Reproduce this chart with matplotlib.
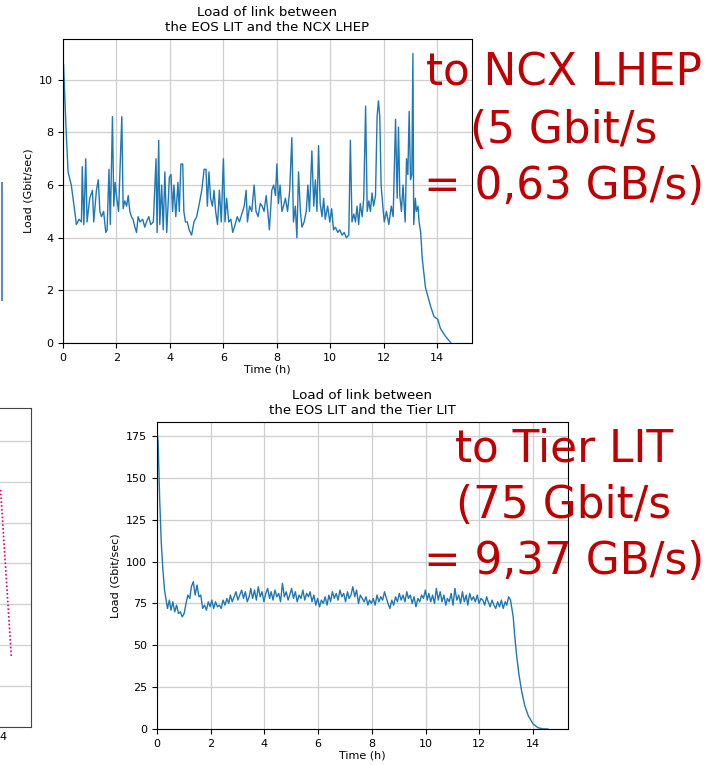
import matplotlib
matplotlib.use("Agg")
import matplotlib.pyplot as plt
from matplotlib.lines import Line2D

# --- link to NCX LHEP (Gbit/s vs hours)
ncx_t = [0.00, 0.02, 0.12, 0.19, 0.31, 0.44, 0.50, 0.60, 0.69, 0.72,
         0.78, 0.85, 0.90, 1.00, 1.10, 1.15, 1.25, 1.32, 1.38, 1.44,
         1.52, 1.60, 1.65, 1.72, 1.77, 1.85, 1.90, 1.95, 2.00, 2.08,
         2.20, 2.25, 2.31, 2.38, 2.44, 2.50, 2.56, 2.62, 2.69, 2.75,
         2.81, 2.88, 2.98, 3.06, 3.12, 3.21, 3.28, 3.38, 3.48, 3.52,
         3.58, 3.62, 3.69, 3.75, 3.81, 3.88, 3.98, 4.04, 4.10, 4.15,
         4.22, 4.30, 4.35, 4.41, 4.48, 4.52, 4.58, 4.65, 4.72, 4.81,
         4.90, 5.00, 5.10, 5.19, 5.28, 5.35, 5.40, 5.46, 5.52, 5.59,
         5.65, 5.71, 5.78, 5.85, 5.92, 6.00, 6.06, 6.12, 6.20, 6.28,
         6.35, 6.44, 6.52, 6.60, 6.69, 6.78, 6.85, 6.90, 6.98, 7.06,
         7.15, 7.22, 7.30, 7.38, 7.45, 7.52, 7.60, 7.66, 7.72, 7.81,
         7.88, 7.95, 8.00, 8.06, 8.12, 8.19, 8.25, 8.32, 8.40, 8.48,
         8.56, 8.62, 8.69, 8.75, 8.81, 8.88, 8.94, 9.02, 9.10, 9.16,
         9.22, 9.31, 9.38, 9.44, 9.50, 9.56, 9.62, 9.69, 9.75, 9.81,
         9.90, 9.98, 10.05, 10.12, 10.19, 10.28, 10.35, 10.44, 10.52, 10.60,
         10.69, 10.75, 10.81, 10.88, 10.94, 11.00, 11.06, 11.12, 11.19, 11.25,
         11.32, 11.38, 11.44, 11.50, 11.56, 11.62, 11.69, 11.75, 11.80, 11.85,
         11.90, 11.98, 12.02, 12.10, 12.19, 12.28, 12.35, 12.44, 12.50, 12.55,
         12.60, 12.66, 12.72, 12.80, 12.85, 12.90, 12.95, 13.00, 13.05, 13.09,
         13.12, 13.18, 13.22, 13.28, 13.32, 13.38, 13.44, 13.56, 13.75, 13.88,
         14.02, 14.12, 14.31, 14.50]
ncx_load = [3.8, 10.6, 8.0, 6.5, 6.0, 5.0, 4.5, 4.7, 4.6, 6.7,
            4.5, 7.0, 4.6, 5.5, 5.8, 4.6, 5.8, 6.2, 5.0, 4.8,
            5.0, 4.2, 4.3, 6.6, 4.5, 8.6, 5.2, 6.1, 5.6, 5.0,
            8.6, 5.1, 5.4, 5.2, 5.6, 5.0, 4.8, 4.7, 4.4, 4.2,
            4.8, 4.6, 4.7, 4.4, 4.6, 4.8, 4.5, 4.6, 7.0, 4.2,
            7.7, 4.5, 6.0, 4.3, 6.5, 4.2, 6.3, 6.4, 5.0, 6.0,
            4.8, 6.1, 5.0, 6.8, 6.8, 5.0, 4.6, 4.6, 4.3, 4.1,
            4.6, 4.8, 5.3, 5.8, 6.6, 6.6, 5.2, 6.5, 5.5, 5.2,
            5.8, 5.0, 4.5, 5.8, 4.6, 7.0, 4.6, 5.5, 4.6, 4.7,
            4.2, 4.5, 4.8, 4.6, 4.9, 5.2, 5.8, 4.6, 5.2, 5.0,
            6.0, 5.0, 4.8, 5.3, 5.2, 5.0, 5.6, 5.0, 4.3, 5.8,
            6.0, 5.6, 6.8, 5.3, 6.0, 5.0, 5.2, 5.5, 5.0, 5.8,
            7.8, 4.6, 5.2, 4.0, 6.5, 5.0, 4.4, 4.6, 5.0, 6.0,
            5.0, 7.3, 5.2, 6.2, 5.0, 7.5, 5.3, 4.8, 5.5, 4.7,
            5.2, 4.6, 5.1, 4.3, 4.4, 4.2, 4.3, 4.1, 4.2, 4.0,
            4.1, 7.7, 4.6, 4.9, 4.6, 5.2, 4.5, 5.3, 4.8, 5.5,
            9.0, 5.0, 5.4, 5.0, 5.7, 5.2, 5.6, 8.6, 9.2, 8.6,
            6.0, 5.0, 4.6, 5.0, 4.5, 5.2, 4.8, 8.5, 5.5, 8.2,
            5.6, 5.0, 6.0, 4.6, 7.0, 6.4, 8.8, 6.2, 6.4, 11.0,
            4.5, 5.5, 5.0, 5.2, 4.6, 4.2, 3.2, 2.1, 1.4, 1.0,
            0.9, 0.55, 0.25, 0.02]

# --- link to Tier LIT
tier_t = [0.00, 0.04, 0.10, 0.16, 0.22, 0.28, 0.35,
          0.39, 0.46, 0.52, 0.59, 0.66, 0.73, 0.80, 0.87, 0.94, 1.01,
          1.08, 1.15, 1.22, 1.28, 1.35, 1.42, 1.49, 1.56, 1.63, 1.70,
          1.77, 1.84, 1.91, 1.98, 2.04, 2.11, 2.18, 2.25, 2.32, 2.39,
          2.46, 2.53, 2.60, 2.67, 2.73, 2.80, 2.87, 2.94, 3.01, 3.08,
          3.15, 3.22, 3.29, 3.36, 3.43, 3.49, 3.56, 3.63, 3.70, 3.77,
          3.84, 3.91, 3.98, 4.05, 4.12, 4.19, 4.25, 4.32, 4.39, 4.46,
          4.53, 4.60, 4.67, 4.74, 4.81, 4.88, 4.94, 5.01, 5.08, 5.15,
          5.22, 5.29, 5.36, 5.43, 5.50, 5.57, 5.64, 5.70, 5.77, 5.84,
          5.91, 5.98, 6.05, 6.12, 6.19, 6.26, 6.33, 6.40, 6.46, 6.53,
          6.60, 6.67, 6.74, 6.81, 6.88, 6.95, 7.02, 7.09, 7.15, 7.22,
          7.29, 7.36, 7.43, 7.50, 7.57, 7.64, 7.71, 7.78, 7.85, 7.91,
          7.98, 8.05, 8.12, 8.19, 8.26, 8.33, 8.40, 8.47, 8.54, 8.60,
          8.67, 8.74, 8.81, 8.88, 8.95, 9.02, 9.09, 9.16, 9.23, 9.30,
          9.36, 9.43, 9.50, 9.57, 9.64, 9.71, 9.78, 9.85, 9.92, 9.99,
          10.06, 10.12, 10.19, 10.26, 10.33, 10.40, 10.47, 10.54, 10.61, 10.68,
          10.75, 10.81, 10.88, 10.95, 11.02, 11.09, 11.16, 11.23, 11.30, 11.37,
          11.44, 11.51, 11.57, 11.64, 11.71, 11.78, 11.85, 11.92, 11.99, 12.06,
          12.13, 12.20, 12.27, 12.33, 12.40, 12.47, 12.54, 12.61, 12.68, 12.75,
          12.82, 12.89, 12.96, 13.02, 13.09, 13.16,
          13.26, 13.32, 13.38, 13.47, 13.57, 13.69, 13.82, 14.00, 14.19, 14.38,
          14.55]
tier_load = [178, 172, 137, 111, 95, 83, 76,
             72, 77, 71, 76, 70, 74, 69, 70, 67, 69,
             75, 80, 78, 85, 88, 80, 86, 79, 80, 72,
             74, 71, 76, 73, 77, 72, 76, 73, 74, 72,
             77, 74, 78, 75, 80, 76, 79, 82, 77, 80,
             83, 78, 82, 76, 79, 84, 78, 83, 77, 85,
             79, 82, 76, 81, 84, 78, 82, 77, 83, 79,
             81, 76, 87, 79, 82, 77, 80, 84, 78, 82,
             76, 80, 78, 83, 77, 81, 79, 82, 76, 80,
             74, 78, 73, 77, 75, 79, 74, 80, 76, 82,
             78, 81, 77, 83, 79, 81, 76, 82, 78, 80,
             85, 79, 83, 75, 80, 78, 76, 79, 74, 77,
             75, 78, 74, 80, 76, 79, 77, 82, 78, 75,
             72, 77, 74, 79, 76, 81, 77, 80, 76, 82,
             78, 80, 75, 79, 73, 78, 76, 80, 78, 83,
             77, 81, 76, 80, 75, 84, 77, 82, 76, 80,
             74, 78, 76, 81, 74, 84, 77, 80, 75, 82,
             76, 80, 74, 81, 77, 79, 76, 80, 75, 78,
             77, 74, 79, 76, 73, 77, 74, 72, 76, 73,
             77, 72, 76, 74, 79, 77,
             67, 55, 45, 33, 23, 14, 8, 3, 0.7, 0.1,
             0]

# --- cut-off neighbour chart at the left edge
edge_t = [3.96, 4.14]
edge_val = [5.8, 1.7]

ncx_note = "to NCX LHEP\n(5 Gbit/s\n= 0,63 GB/s)"
tier_note = "to Tier LIT\n(75 Gbit/s\n= 9,37 GB/s)"

W, H = 712, 765
fig = plt.figure(figsize=(W / 100, H / 100), dpi=100)
red = '#c00000'
blue = '#1f77b4'
gridc = '#cfcfcf'


def frac(l, t, r, b):
    return [l / W, 1 - b / H, (r - l) / W, (b - t) / H]


# top chart
ax1 = fig.add_axes(frac(63, 39, 472, 343))
ax1.plot(ncx_t, ncx_load, color=blue, lw=1.0)
ax1.set_xlim(0, 15.3)
ax1.set_ylim(0, 11.55)
ax1.set_xticks(range(0, 15, 2))
ax1.set_yticks(range(0, 11, 2))
ax1.grid(True, color=gridc, lw=0.9)
ax1.set_title("Load of link between\nthe EOS LIT and the NCX LHEP", fontsize=9.6)
ax1.set_xlabel("Time (h)", fontsize=8, labelpad=1)
ax1.set_ylabel("Load (Gbit/sec)", fontsize=8)
ax1.tick_params(labelsize=8)

# bottom chart
ax2 = fig.add_axes(frac(157, 422, 568, 729))
ax2.plot(tier_t, tier_load, color=blue, lw=1.0)
ax2.set_xlim(0, 15.3)
ax2.set_ylim(0, 183.4)
ax2.set_xticks(range(0, 15, 2))
ax2.set_yticks(range(0, 176, 25))
ax2.grid(True, color=gridc, lw=0.9)
ax2.set_title("Load of link between\nthe EOS LIT and the Tier LIT", fontsize=9.6)
ax2.set_xlabel("Time (h)", fontsize=8, labelpad=1)
ax2.set_ylabel("Load (Gbit/sec)", fontsize=8)
ax2.tick_params(labelsize=8)

# partial chart cut by the left edge
ax3 = fig.add_axes(frac(-237, 408, 31, 727))
ax3.plot(edge_t, edge_val, color='#e8006f', lw=1.2, ls=(0, (1, 1.3)))
ax3.set_xlim(0, 4.467)
ax3.set_ylim(0, 7.8)
ax3.set_xticks([4])
ax3.set_yticks(range(0, 8))
ax3.set_yticklabels([])
ax3.grid(True, axis='y', color=gridc, lw=0.9)
ax3.tick_params(labelsize=8, length=0)
for s in ax3.spines.values():
    s.set_color('#444444')

# blue edge of a box at far left
fig.add_artist(Line2D([1.5 / W, 1.5 / W], [1 - 183 / H, 1 - 300 / H],
                      color='#5b8cc4', lw=1.5))

fig.text(564 / W, 1 - 52 / H, ncx_note, color=red, fontsize=31.5,
         ha='center', va='top', linespacing=1.4)
fig.text(564 / W, 1 - 427 / H, tier_note, color=red, fontsize=31.5,
         ha='center', va='top', linespacing=1.4)

fig.savefig("out.png", dpi=100)
